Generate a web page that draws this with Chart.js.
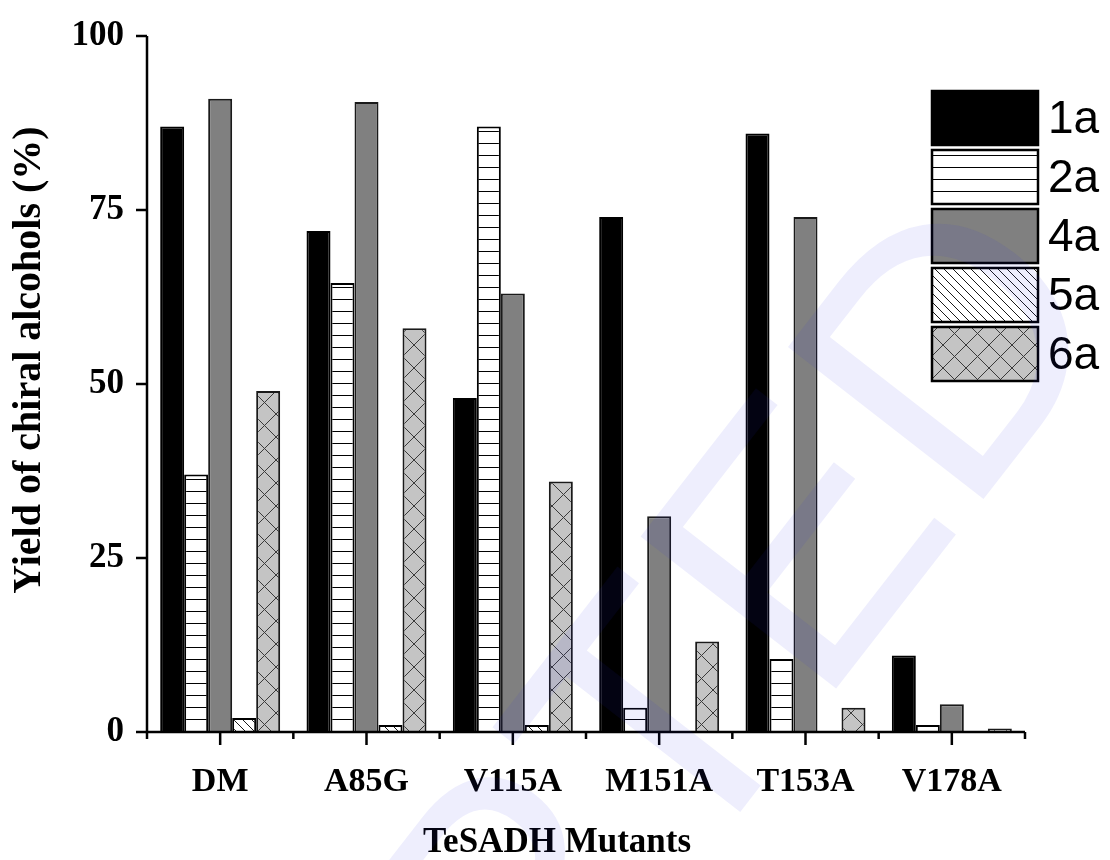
<!DOCTYPE html>
<html>
<head>
<meta charset="utf-8">
<script src="https://cdn.jsdelivr.net/npm/chart.js@4.4.1/dist/chart.umd.min.js"></script>
<style>
  html, body { margin: 0; padding: 0; background: #fff; }
  #wrap { width: 1110px; height: 860px; }
</style>
</head>
<body>
<div id="wrap"><canvas id="chart" width="1110" height="860"></canvas></div>
<script>
// data
const mutants = ["DM", "A85G", "V115A", "M151A", "T153A", "V178A"];
const seriesNames = ["1a", "2a", "4a", "5a", "6a"];
const yield1a = [87, 72, 48, 74, 86, 11];
const yield2a = [37, 64.5, 87, 3.5, 10.5, 1];
const yield4a = [91, 90.5, 63, 31, 74, 4];
const yield5a = [2, 1, 1, 0, 0, 0];
const yield6a = [49, 58, 36, 13, 3.5, 0.5];
const yTicks = [0, 25, 50, 75, 100];
const xTitle = "TeSADH Mutants";
const yTitle = "Yield of chiral alcohols (%)";

// ========================
// PATTERNS
// ========================
function makeTile(size, bg, draw) {
  const c = document.createElement("canvas");
  c.width = size;
  c.height = size;
  const g = c.getContext("2d");
  g.fillStyle = bg;
  g.fillRect(0, 0, size, size);
  draw(g, size);
  return document.getElementById("chart").getContext("2d").createPattern(c, "repeat");
}

const horiz = makeTile(12, "#ffffff", (g, s) => {
  g.fillStyle = "#000";
  g.fillRect(0, s - 1, s, 1.3);
});

const diag = makeTile(9, "#ffffff", (g, s) => {
  g.strokeStyle = "#000";
  g.lineWidth = 0.9;
  g.beginPath();
  g.moveTo(-1, -1); g.lineTo(s + 1, s + 1);
  g.moveTo(-1, s - 1); g.lineTo(1, s + 1);
  g.moveTo(s - 1, -1); g.lineTo(s + 1, 1);
  g.stroke();
});

const cross = makeTile(23, "#c4c4c4", (g, s) => {
  g.strokeStyle = "#3a3a3a";
  g.lineWidth = 1;
  g.beginPath();
  g.moveTo(0, 0); g.lineTo(s, s);
  g.moveTo(s, 0); g.lineTo(0, s);
  g.stroke();
});

const fills = ["#000000", horiz, "#808080", diag, cross];
const borders = ["#000000", "#000000", "#1a1a1a", "#000000", "#1a1a1a"];
const values = [yield1a, yield2a, yield4a, yield5a, yield6a];

const serif = "'Liberation Serif', 'Times New Roman', serif";

// ========================
// PLUGINS
// ========================
const axesPlugin = {
  id: "axes",
  afterDatasetsDraw(chart) {
    const { ctx, chartArea: a, scales: { x, y } } = chart;
    ctx.save();
    ctx.strokeStyle = "#000";
    ctx.lineWidth = 2.5;
    ctx.beginPath();
    ctx.moveTo(a.left, a.top);
    ctx.lineTo(a.left, a.bottom);
    ctx.lineTo(a.right, a.bottom);
    ctx.stroke();
    // y ticks
    yTicks.forEach((v) => {
      const py = y.getPixelForValue(v);
      ctx.beginPath();
      ctx.moveTo(a.left - 11, py);
      ctx.lineTo(a.left, py);
      ctx.stroke();
    });
    // x major ticks at centres, minor at boundaries
    const step = (a.right - a.left) / mutants.length;
    mutants.forEach((m, i) => {
      const px = x.getPixelForValue(i);
      ctx.beginPath();
      ctx.moveTo(px, a.bottom);
      ctx.lineTo(px, a.bottom + 13);
      ctx.stroke();
    });
    for (let i = 0; i <= mutants.length; i++) {
      const px = a.left + i * step;
      ctx.beginPath();
      ctx.moveTo(px, a.bottom);
      ctx.lineTo(px, a.bottom + 7);
      ctx.stroke();
    }

    // axis titles
    ctx.fillStyle = "#000";
    ctx.textAlign = "center";
    ctx.textBaseline = "middle";
    ctx.font = "bold 35px " + serif;
    ctx.fillText(xTitle, 557, 843);
    ctx.translate(30, 360);
    ctx.rotate(-Math.PI / 2);
    ctx.font = "bold 40px " + serif;
    ctx.fillText(yTitle, 0, 0);
    ctx.restore();
  },
};

const legendPlugin = {
  id: "boxLegend",
  afterDatasetsDraw(chart) {
    const ctx = chart.ctx;
    ctx.save();
    const left = 932, top = 91, w = 106, h = 54, gap = 59;
    chart.data.datasets.forEach((ds, i) => {
      const ty = top + i * gap;
      ctx.fillStyle = ds.backgroundColor;
      ctx.fillRect(left, ty, w, h);
      ctx.strokeStyle = "#000";
      ctx.lineWidth = 2.5;
      ctx.strokeRect(left, ty, w, h);
      ctx.fillStyle = "#000";
      ctx.font = "46px 'Liberation Sans', Arial, sans-serif";
      ctx.textBaseline = "middle";
      ctx.fillText(ds.label, left + w + 10, ty + h / 2 + 2);
    });
    ctx.restore();
  },
};

const watermarkPlugin = {
  id: "watermark",
  afterDraw(chart) {
    const ctx = chart.ctx;
    ctx.save();
    ctx.translate(445, 1030);
    ctx.rotate(-0.91);
    ctx.fillStyle = "rgba(40, 40, 230, 0.08)";
    ctx.font = "360px 'Liberation Sans', Arial, sans-serif";
    ctx.textAlign = "center";
    ctx.textBaseline = "middle";
    ctx.fillText("ACCEPTED", 0, 0);
    ctx.restore();
  },
};

// ========================
// CHART
// ========================
new Chart(document.getElementById("chart"), {
  type: "bar",
  data: {
    labels: mutants,
    datasets: seriesNames.map((name, i) => ({
      label: name,
      data: values[i],
      backgroundColor: fills[i],
      borderColor: borders[i],
      borderWidth: 2,
      categoryPercentage: 0.82,
      barPercentage: 1.0,
    })),
  },
  options: {
    responsive: false,
    animation: false,
    layout: { padding: { top: 32, right: 85, left: 0, bottom: 0 } },
    plugins: {
      legend: { display: false },
      tooltip: { enabled: false },
    },
    scales: {
      x: {
        grid: { display: false },
        border: { display: false },
        ticks: {
          color: "#000",
          padding: 22,
          font: { family: serif, size: 34, weight: "bold" },
        },
        afterFit: (s) => { s.height = 128; },
      },
      y: {
        min: 0,
        max: 100,
        afterBuildTicks: (s) => { s.ticks = yTicks.map((v) => ({ value: v })); },
        grid: { display: false },
        border: { display: false },
        ticks: {
          color: "#000",
          padding: 15,
          font: { family: serif, size: 35, weight: "bold" },
        },
        afterFit: (s) => { s.width = 147; },
      },
    },
  },
  plugins: [axesPlugin, legendPlugin, watermarkPlugin],
});
</script>
</body>
</html>
